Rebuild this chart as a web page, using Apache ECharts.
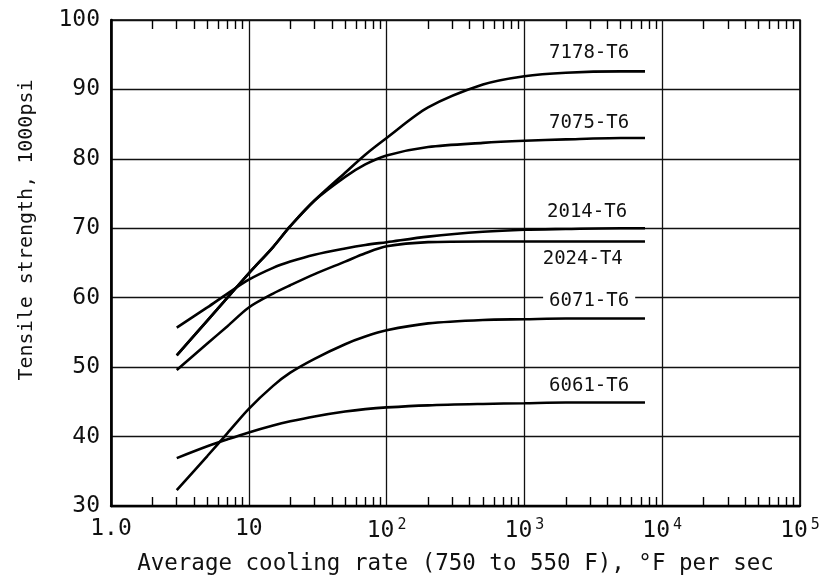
<!DOCTYPE html>
<html>
<head>
<meta charset="utf-8">
<script src="https://cdn.jsdelivr.net/npm/echarts@6/dist/echarts.min.js"></script>
<style>
  html, body { margin: 0; padding: 0; background: #fff; }
  #chart { width: 826px; height: 584px; }
</style>
</head>
<body>
<div id="chart"></div>
<script>
// cooling rate, °F per sec (shared x samples)
const rates = [3, 5, 7, 10, 15, 20, 30, 50, 70, 100, 200, 500, 1000, 2000, 5000, 7500]
// tensile strength, 1000 psi
const s7178 = [51.7, 56.7, 60.0, 63.5, 67.3, 70.3, 74.0, 78.0, 80.6, 83.0, 87.4, 90.7, 91.9, 92.4, 92.6, 92.6]
const s7075 = [51.7, 56.7, 60.0, 63.5, 67.3, 70.3, 74.0, 77.4, 79.2, 80.5, 81.7, 82.3, 82.6, 82.8, 83.0, 83.0]
const s2014 = [55.7, 58.6, 60.6, 62.6, 64.3, 65.2, 66.2, 67.1, 67.6, 68.0, 68.8, 69.5, 69.8, 69.9, 70.0, 70.0]
const s2024 = [49.6, 53.4, 55.9, 58.6, 60.6, 61.8, 63.4, 65.2, 66.4, 67.4, 68.0, 68.1, 68.1, 68.1, 68.1, 68.1]
const s6071 = [32.3, 37.2, 40.5, 44.0, 47.3, 49.2, 51.2, 53.3, 54.4, 55.3, 56.3, 56.8, 56.9, 57.0, 57.0, 57.0]
const s6061 = [36.9, 38.6, 39.6, 40.6, 41.6, 42.2, 42.9, 43.6, 43.95, 44.2, 44.5, 44.7, 44.8, 44.9, 44.9, 44.9]

const seriesNames = ['7178-T6', '7075-T6', '2014-T6', '2024-T4', '6071-T6', '6061-T6']
const seriesVals = [s7178, s7075, s2014, s2024, s6071, s6061]
// label anchor points (data space)
const labelAt = [[2950, 95.3], [2950, 85.2], [2850, 72.4], [2650, 65.5], [2950, 59.5], [2950, 47.3]]

const decades = [1, 10, 100, 1000, 10000]
const minorMult = [2, 3, 4, 5, 6, 7, 8, 9]

const FONT = 'DejaVu Sans Mono'
const supMap = { 100: '2', 1000: '3', 10000: '4', 100000: '5' }

// minor log ticks on top and bottom edges
let tickLines = []
decades.forEach(d => {
  minorMult.forEach(m => {
    tickLines.push([{ coord: [d * m, 30] }, { coord: [d * m, 31.3] }])
    tickLines.push([{ coord: [d * m, 100] }, { coord: [d * m, 98.7] }])
  })
})

let chart = echarts.init(document.getElementById('chart'))

let series = seriesNames.map((name, i) => {
  return {
    name: name,
    type: 'line',
    data: rates.map((r, k) => [r, seriesVals[i][k]]),
    smooth: 0.3,
    symbol: 'none',
    lineStyle: { color: '#000', width: 2.6 },
    z: 5,
    markPoint: {
      symbol: 'rect',
      symbolSize: 1,
      itemStyle: { color: 'rgba(0,0,0,0)' },
      silent: true,
      label: {
        show: true,
        position: 'inside',
        formatter: name,
        fontFamily: FONT,
        fontSize: 19,
        color: '#111',
        backgroundColor: name === '6071-T6' ? '#fff' : 'transparent',
        padding: name === '6071-T6' ? [1, 6] : 0
      },
      data: [{ coord: labelAt[i] }]
    }
  }
})

series.push({
  type: 'line',
  data: [],
  silent: true,
  markLine: {
    silent: true,
    symbol: ['none', 'none'],
    label: { show: false },
    lineStyle: { color: '#000', width: 1.4, type: 'solid' },
    data: tickLines
  }
})

let option = {
  backgroundColor: '#fff',
  animation: false,
  grid: {
    left: 111,
    right: 26,
    top: 20,
    bottom: 78,
    show: true,
    borderColor: '#000',
    borderWidth: 1.6
  },
  xAxis: {
    type: 'log',
    logBase: 10,
    min: 1,
    max: 100000,
    name: 'Average cooling rate (750 to 550 F), °F per sec',
    nameLocation: 'middle',
    nameGap: 47,
    nameTextStyle: { fontFamily: FONT, fontSize: 22.5, color: '#111' },
    axisLine: { show: true, lineStyle: { color: '#000', width: 2.4 } },
    axisTick: { show: false },
    splitLine: { show: true, lineStyle: { color: '#111', width: 1.3 } },
    axisLabel: {
      margin: 12,
      fontFamily: FONT,
      fontSize: 23,
      color: '#111',
      formatter: function (v) {
        if (v === 1) return '1.0'
        if (v === 10) return '10'
        return '10{sup|' + supMap[v] + '}'
      },
      rich: {
        sup: { fontFamily: FONT, fontSize: 15, color: '#111', padding: [0, 0, 12, 3] }
      }
    }
  },
  yAxis: {
    type: 'value',
    min: 30,
    max: 100,
    interval: 10,
    name: 'Tensile strength, 1000psi',
    nameLocation: 'middle',
    nameGap: 74,
    nameTextStyle: { fontFamily: FONT, fontSize: 20, color: '#111', padding: [0, 0, 0, 66] },
    axisLine: { show: true, lineStyle: { color: '#000', width: 2.6 } },
    axisTick: { show: false },
    splitLine: { show: true, lineStyle: { color: '#111', width: 1.3 } },
    axisLabel: { margin: 11, fontFamily: FONT, fontSize: 23, color: '#111' }
  },
  series: series
}
chart.setOption(option)
</script>
</body>
</html>
